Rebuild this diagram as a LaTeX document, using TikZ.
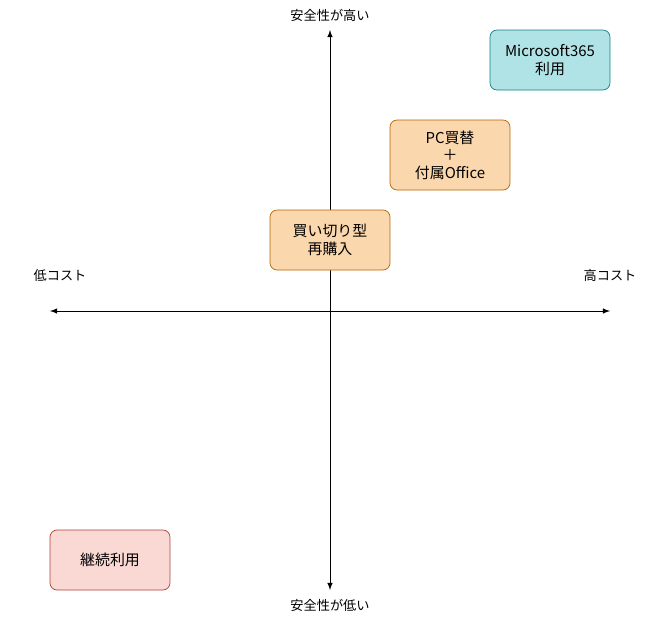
\documentclass[tikz,border=0pt]{standalone}
\usepackage{fontspec}
\setmainfont{Noto Sans CJK JP}
\definecolor{tealfill}{HTML}{B0E3E6}
\definecolor{tealline}{HTML}{0E8088}
\definecolor{orfill}{HTML}{FAD7AC}
\definecolor{orline}{HTML}{B46504}
\definecolor{redfill}{HTML}{FAD9D5}
\definecolor{redline}{HTML}{AE4132}
\begin{document}
\begin{tikzpicture}[x=0.02cm,y=-0.02cm,
  box/.style={rectangle,rounded corners=4pt,minimum width=2.4cm,minimum height=1.2cm,align=center,font=\fontsize{8.5}{10}\selectfont},
  lbl/.style={font=\fontsize{7.5}{9}\selectfont}]
	\useasboundingbox (0,0) rectangle (670,620);
	%axes
	\coordinate (xl) at (50,311);
	\coordinate (xr) at (610,311);
	\coordinate (yt) at (330,30);
	\coordinate (yb) at (330,590);
	\draw[latex-latex] (xl) -- (xr);
	\draw[latex-latex] (yb) -- (yt);

	%axis labels
	\node[lbl] (high) at (330,15) {安全性が高い};
	\node[lbl] (low) at (330,605) {安全性が低い};
	\node[lbl] (cheap) at (60,275) {低コスト};
	\node[lbl] (dear) at (610,275) {高コスト};

	%options
	\node[box,fill=tealfill,draw=tealline] (ms) at (550,60) {Microsoft365\\利用};
	\node[box,fill=orfill,draw=orline,minimum height=1.4cm] (pc) at (450,155) {PC買替\\＋\\付属Office};
	\node[box,fill=orfill,draw=orline] (buy) at (330,240) {買い切り型\\再購入};
	\node[box,fill=redfill,draw=redline] (keep) at (110,560) {継続利用};
\end{tikzpicture}
\end{document}
